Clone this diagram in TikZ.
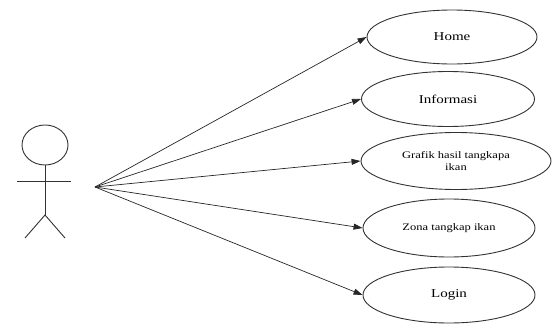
\documentclass[tikz,border=0pt]{standalone}
\usepackage{fontspec}
\setmainfont{Liberation Serif}[FakeStretch=1.25]
\usetikzlibrary{shapes.geometric,arrows.meta}
\begin{document}
\begin{tikzpicture}[x=1pt,y=-1pt,
  uc/.style={ellipse,draw=black!80,line width=0.9pt,fill=white,inner sep=0pt,align=center},
  big/.style={font=\fontsize{12}{13}\selectfont},
  small/.style={font=\fontsize{10}{12.5}\selectfont},
  link/.style={draw=black!85,line width=0.7pt,-{Triangle[length=9pt,width=6pt]}},
  fig/.style={draw=black!80,line width=0.9pt}]
\useasboundingbox (0,0) rectangle (556,324);
% actor
\draw[fig] (45,145) ellipse [x radius=23, y radius=20];
\coordinate (neck) at (45,165);
\coordinate (hip) at (45,215);
\coordinate (al) at (17,181);
\coordinate (ar) at (71,181);
\coordinate (ll) at (25,238);
\coordinate (lr) at (65,238);
\draw[fig] (neck) -- (hip);
\draw[fig] (al) -- (ar);
\draw[fig] (ll) -- (hip) -- (lr);
\coordinate (src) at (95,187);
% use cases
\node[uc,big,minimum width=170,minimum height=54] (home) at (452,37) {Home};
\node[uc,big,minimum width=173,minimum height=55] (info) at (448,99) {Informasi};
\node[uc,small,minimum width=190,minimum height=57] (graf) at (456,161) {Grafik hasil tangkapa\\ikan};
\node[uc,small,minimum width=172,minimum height=58] (zona) at (449,228) {Zona tangkap ikan};
\node[uc,big,minimum width=172,minimum height=56] (login) at (449,295) {Login};
% connectors
\draw[link] (src) -- (home.west);
\draw[link] (src) -- (info.west);
\draw[link] (src) -- (graf.west);
\draw[link] (src) -- (zona.west);
\draw[link] (src) -- (login.west);
\end{tikzpicture}
\end{document}
